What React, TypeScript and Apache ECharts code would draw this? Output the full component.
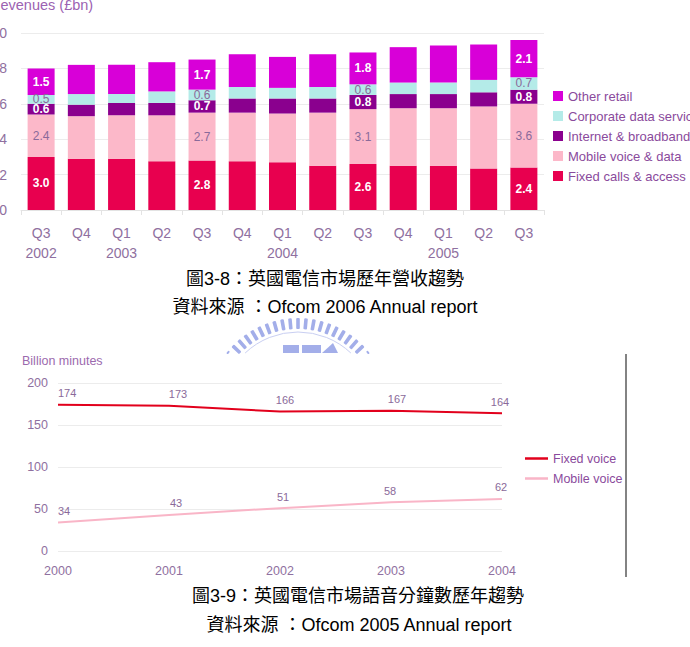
import React, { useEffect, useRef } from "react";
import * as echarts from "echarts";

// Quarterly UK telecoms retail revenues (£bn)
const quarters = ["Q3\n2002", "Q4", "Q1\n2003", "Q2", "Q3", "Q4", "Q1\n2004", "Q2", "Q3", "Q4", "Q1\n2005", "Q2", "Q3"];
const fixedCalls = [3.0, 2.9, 2.9, 2.75, 2.8, 2.75, 2.7, 2.5, 2.6, 2.5, 2.5, 2.35, 2.4];
const mobileVoiceData = [2.4, 2.4, 2.45, 2.6, 2.7, 2.75, 2.75, 3.0, 3.1, 3.25, 3.25, 3.5, 3.6];
const internetBroadband = [0.6, 0.65, 0.7, 0.7, 0.7, 0.8, 0.85, 0.8, 0.8, 0.8, 0.8, 0.8, 0.8];
const corporateData = [0.5, 0.6, 0.5, 0.65, 0.6, 0.65, 0.6, 0.65, 0.6, 0.65, 0.65, 0.7, 0.7];
const otherRetail = [1.5, 1.65, 1.65, 1.65, 1.7, 1.85, 1.75, 1.85, 1.8, 2.0, 2.1, 2.0, 2.1];
const labelledQuarters = [0, 4, 8, 12];
const revenueTicks = [0, 2, 4, 6, 8, 10];

// Annual voice minutes (billion)
const years = ["2000", "2001", "2002", "2003", "2004"];
const fixedVoice = [174, 173, 166, 167, 164];
const mobileVoice = [34, 43, 51, 58, 62];
const minuteTicks = [0, 50, 100, 150, 200];

const FONT = '"Liberation Sans", Arial, sans-serif';
const CJK_FONT = '"Liberation Sans", "Noto Sans CJK TC", sans-serif';
const AXIS = "#8f70a0";
const LEGEND = "#8a4a9c";
const VALUE = "#8a6a9a";

// horizontal nudges for the minute labels
const fixedNudge = [0, 9, 5, 6, -2];
const mobileNudge = [0, 7, 3, -1, -1];

function barSeries(name: string, values: number[], color: string, light: boolean) {
  return {
    name,
    type: "bar",
    stack: "revenue",
    xAxisIndex: 0,
    yAxisIndex: 0,
    barWidth: 27,
    itemStyle: { color },
    label: {
      show: false,
      position: "inside",
      fontFamily: FONT,
      fontSize: 12,
      fontWeight: light ? "normal" : "bold",
      color: light ? VALUE : "#ffffff",
      formatter: (p: any) => Number(p.value).toFixed(1),
    },
    data: values.map((v, i) =>
      labelledQuarters.includes(i) ? { value: v, label: { show: true } } : v
    ),
  };
}

function lineSeries(name: string, values: number[], color: string, nudge: number[]) {
  return {
    name,
    type: "line",
    xAxisIndex: 1,
    yAxisIndex: 1,
    symbol: "circle",
    symbolSize: 0,
    showSymbol: true,
    lineStyle: { color, width: 2 },
    itemStyle: { color },
    label: {
      show: true,
      position: "top",
      distance: 6,
      color: VALUE,
      fontSize: 11,
      fontFamily: FONT,
    },
    data: values.map((v, i) => ({
      value: v,
      label: i === 0 ? { align: "left", offset: [0, 0] } : { offset: [nudge[i], 0] },
    })),
  };
}

function emblem() {
  const color = "#a3aee9";
  const cx = 298;
  const cy = 409;
  const cutY = 353;
  const outer = 91;
  const inner = 80;
  const items: any[] = [];
  for (let deg = -51; deg <= 51.01; deg += 5.1) {
    const t = (deg * Math.PI) / 180;
    const start = Math.max(inner, (cy - cutY) / Math.cos(t));
    const len = outer - start;
    if (len < 1.5) continue;
    items.push({
      type: "rect",
      x: cx,
      y: cy,
      rotation: -t,
      silent: true,
      shape: { x: -1.8, y: -outer, width: 3.6, height: len, r: 1 },
      style: { fill: color },
    });
  }
  const a = Math.acos((cy - cutY) / 77);
  items.push({
    type: "arc",
    silent: true,
    shape: { cx, cy, r: 77, startAngle: -Math.PI / 2 - a, endAngle: -Math.PI / 2 + a },
    style: { stroke: "#c9cff2", lineWidth: 1, fill: "none" },
  });
  items.push({ type: "rect", silent: true, shape: { x: 283, y: 345, width: 16, height: 8 }, style: { fill: color } });
  items.push({ type: "rect", silent: true, shape: { x: 302, y: 345, width: 19, height: 8 }, style: { fill: color } });
  items.push({
    type: "polygon",
    silent: true,
    shape: { points: [[322, 353], [333, 343], [338, 353]] },
    style: { fill: color },
  });
  return items;
}

function caption(text: string, x: number, y: number) {
  return {
    type: "text",
    x,
    y,
    silent: true,
    style: {
      text,
      fill: "#000000",
      fontSize: 18,
      fontFamily: CJK_FONT,
      align: "center",
      verticalAlign: "middle",
      textAlign: "center",
      textVerticalAlign: "middle",
    },
  };
}

export default function App() {
  const ref = useRef<HTMLDivElement>(null);

  useEffect(() => {
    if (!ref.current) return;
    const chart = echarts.init(ref.current, undefined, { renderer: "svg" });
    const option: any = {
      animation: false,
      backgroundColor: "#ffffff",
      textStyle: { fontFamily: FONT },
      grid: [
        { left: 21, top: 33, width: 523, height: 177, containLabel: false, outerBoundsMode: "none" },
        { left: 58, top: 383, width: 444, height: 168, containLabel: false, outerBoundsMode: "none" },
      ],
      xAxis: [
        {
          type: "category",
          gridIndex: 0,
          data: quarters,
          axisLine: { lineStyle: { color: "#e3e3e3" } },
          axisTick: { show: true, length: 5, lineStyle: { color: "#e3e3e3" } },
          axisLabel: { color: AXIS, fontSize: 14, lineHeight: 20, margin: 13, interval: 0, fontFamily: FONT },
        },
        {
          type: "category",
          gridIndex: 1,
          data: years,
          boundaryGap: false,
          axisLine: { show: false },
          axisTick: { show: false },
          axisLabel: { color: AXIS, fontSize: 12.5, margin: 13, fontFamily: FONT },
        },
      ],
      yAxis: [
        {
          type: "value",
          gridIndex: 0,
          min: revenueTicks[0],
          max: revenueTicks[revenueTicks.length - 1],
          interval: 2,
          axisLine: { show: false },
          axisTick: { show: false },
          axisLabel: { color: AXIS, fontSize: 14, margin: 14, fontFamily: FONT },
          splitLine: { lineStyle: { color: "#ececec" } },
        },
        {
          type: "value",
          gridIndex: 1,
          min: minuteTicks[0],
          max: minuteTicks[minuteTicks.length - 1],
          interval: 50,
          axisLine: { show: false },
          axisTick: { show: false },
          axisLabel: { color: AXIS, fontSize: 12.5, margin: 10, fontFamily: FONT },
          splitLine: { lineStyle: { color: "#ececec" } },
        },
      ],
      legend: [
        {
          data: ["Other retail", "Corporate data services", "Internet & broadband", "Mobile voice & data", "Fixed calls & access"],
          orient: "vertical",
          left: 553,
          top: 89,
          padding: 0,
          icon: "rect",
          itemWidth: 10,
          itemHeight: 10,
          itemGap: 6,
          selectedMode: false,
          textStyle: { color: LEGEND, fontSize: 13, lineHeight: 14, fontFamily: FONT },
        },
        {
          data: ["Fixed voice", "Mobile voice"],
          orient: "vertical",
          left: 525,
          top: 452,
          padding: 0,
          icon: "rect",
          itemWidth: 23,
          itemHeight: 2.5,
          itemGap: 7,
          selectedMode: false,
          textStyle: { color: LEGEND, fontSize: 12.5, lineHeight: 12, fontFamily: FONT },
        },
      ],
      series: [
        barSeries("Fixed calls & access", fixedCalls, "#e8004f", false),
        barSeries("Mobile voice & data", mobileVoiceData, "#fcb8c9", true),
        barSeries("Internet & broadband", internetBroadband, "#8a008e", false),
        barSeries("Corporate data services", corporateData, "#b4ebe8", true),
        barSeries("Other retail", otherRetail, "#d800d8", false),
        lineSeries("Fixed voice", fixedVoice, "#e2001c", fixedNudge),
        lineSeries("Mobile voice", mobileVoice, "#f9b5c7", mobileNudge),
      ],
      graphic: [
        ...emblem(),
        {
          type: "text",
          x: -10,
          y: 5,
          silent: true,
          style: {
            text: "Revenues (£bn)",
            fill: "#9c62b2",
            fontSize: 14.5,
            fontFamily: FONT,
            align: "left",
            verticalAlign: "middle",
            textAlign: "left",
            textVerticalAlign: "middle",
          },
        },
        {
          type: "text",
          x: 22,
          y: 361,
          silent: true,
          style: {
            text: "Billion minutes",
            fill: "#9c6aae",
            fontSize: 12.5,
            fontFamily: FONT,
            align: "left",
            verticalAlign: "middle",
            textAlign: "left",
            textVerticalAlign: "middle",
          },
        },
        {
          type: "line",
          silent: true,
          shape: { x1: 626, y1: 354, x2: 626, y2: 577 },
          style: { stroke: "#5a5a5a", lineWidth: 1.5 },
        },
        caption("圖3-8：英國電信市場歷年營收趨勢", 325, 279),
        caption("資料來源 ：Ofcom 2006 Annual report", 325, 307),
        caption("圖3-9：英國電信市場語音分鐘數歷年趨勢", 358, 596),
        caption("資料來源 ：Ofcom 2005 Annual report", 359, 625),
      ],
    };
    chart.setOption(option);
    return () => chart.dispose();
  }, []);

  return (
    <div
      ref={ref}
      style={{ position: "fixed", left: 0, top: 0, width: 690, height: 647, background: "#ffffff" }}
    />
  );
}
